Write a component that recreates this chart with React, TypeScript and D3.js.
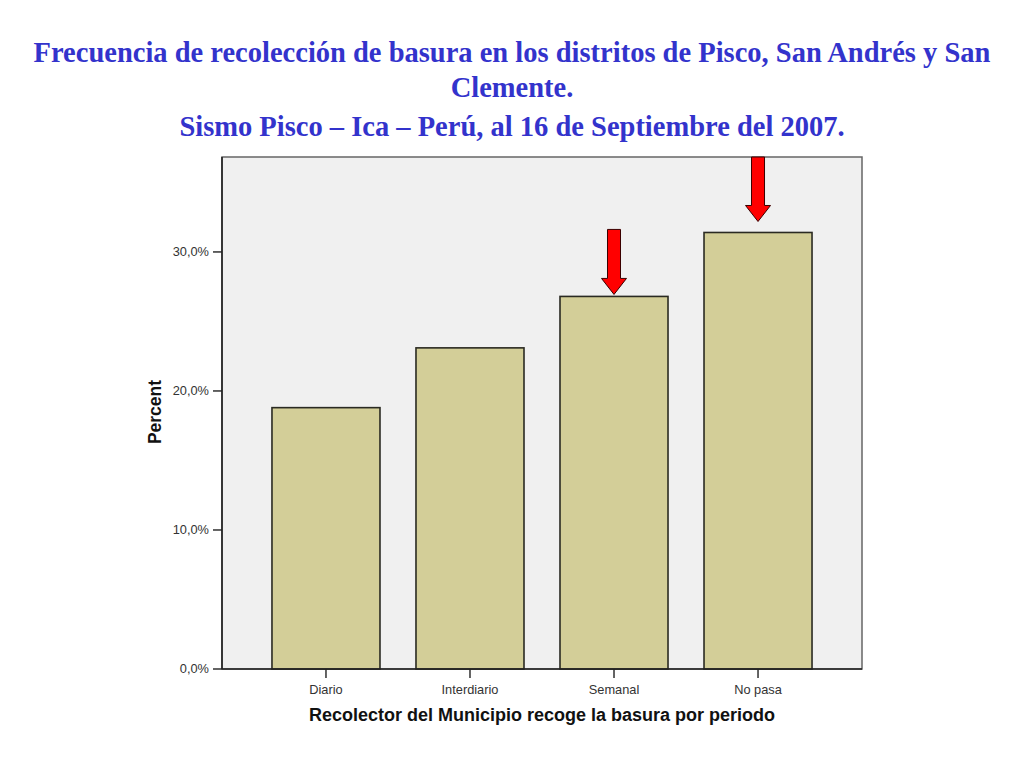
import React from "react";
import * as d3 from "d3";

const categories = ["Diario", "Interdiario", "Semanal", "No pasa"];
const percents = [18.8, 23.1, 26.8, 31.4];
const yTicks = [0, 10, 20, 30];
const highlighted = ["Semanal", "No pasa"];
const arrowGaps = [2, 11];
const titleLines = [
  "Frecuencia de recolección de basura en los distritos de Pisco, San Andrés y San",
  "Clemente.",
];
const subtitle = "Sismo Pisco – Ica – Perú, al 16 de Septiembre del 2007.";
const xTitle = "Recolector del Municipio recoge la basura por periodo";
const yTitle = "Percent";

export default function App() {
  const W = 1024;
  const H = 768;
  const left = 222, right = 862, top = 157, bottom = 669;
  const x = d3.scaleBand<string>().domain(categories).range([left, right]).paddingInner(0.25).paddingOuter(0.347);
  const y = d3.scaleLinear().domain([0, 36.83]).range([bottom, top]);
  const fmt = (v: number) => v.toFixed(1).replace(".", ",") + "%";
  const sans = "Arial, 'Liberation Sans', sans-serif";
  const serif = "'Times New Roman', 'Liberation Serif', serif";

  return (
    <svg width={W} height={H} style={{ display: "block", position: "absolute", left: 0, top: 0, background: "#fff" }}>
      <text x={512} y={62} textAnchor="middle" fontFamily={serif} fontWeight="bold" fontSize={28.5} fill="#3333CC">{titleLines[0]}</text>
      <text x={512} y={97} textAnchor="middle" fontFamily={serif} fontWeight="bold" fontSize={28.5} fill="#3333CC">{titleLines[1]}</text>
      <text x={512} y={136} textAnchor="middle" fontFamily={serif} fontWeight="bold" fontSize={28.5} fill="#3333CC">{subtitle}</text>

      <rect x={left} y={top} width={right - left} height={bottom - top} fill="#F0F0F0" stroke="#666" strokeWidth={1.5} />

      {categories.map((c, i) => (
        <rect key={c} x={x(c)} y={y(percents[i])} width={x.bandwidth()} height={bottom - y(percents[i])}
          fill="#D3CE98" stroke="#2a2a22" strokeWidth={1.6} />
      ))}

      {highlighted.map((c, k) => {
        const i = categories.indexOf(c);
        const cx = (x(c) as number) + x.bandwidth() / 2;
        const tip = y(percents[i]) - arrowGaps[k];
        const headBase = tip - 16;
        const shaftTop = Math.max(top, tip - 65);
        const sw = 6.5, hw = 12.5;
        const d = `M${cx - sw},${shaftTop} L${cx + sw},${shaftTop} L${cx + sw},${headBase} L${cx + hw},${headBase} L${cx},${tip} L${cx - hw},${headBase} L${cx - sw},${headBase} Z`;
        return <path key={c} d={d} fill="#FF0000" stroke="#3a0000" strokeWidth={1} />;
      })}

      <line x1={left} y1={top} x2={left} y2={bottom} stroke="#222" strokeWidth={1.6} />
      <line x1={left} y1={bottom} x2={right} y2={bottom} stroke="#222" strokeWidth={1.6} />

      {yTicks.map((t) => (
        <g key={t}>
          <line x1={left - 9} x2={left} y1={y(t)} y2={y(t)} stroke="#222" strokeWidth={1.4} />
          <text x={left - 13} y={y(t)} dy="0.35em" textAnchor="end" fontFamily={sans} fontSize={12.8} fill="#333">{fmt(t)}</text>
        </g>
      ))}

      {categories.map((c) => {
        const cx = (x(c) as number) + x.bandwidth() / 2;
        return (
          <g key={c}>
            <line x1={cx} x2={cx} y1={bottom} y2={bottom + 9} stroke="#222" strokeWidth={1.4} />
            <text x={cx} y={694} textAnchor="middle" fontFamily={sans} fontSize={12.8} fill="#333">{c}</text>
          </g>
        );
      })}

      <text x={542} y={721} textAnchor="middle" fontFamily={sans} fontWeight="bold" fontSize={18} fill="#111">{xTitle}</text>
      <text transform={`translate(161,412) rotate(-90)`} textAnchor="middle" fontFamily={sans} fontWeight="bold" fontSize={17.5} fill="#111">{yTitle}</text>
    </svg>
  );
}
